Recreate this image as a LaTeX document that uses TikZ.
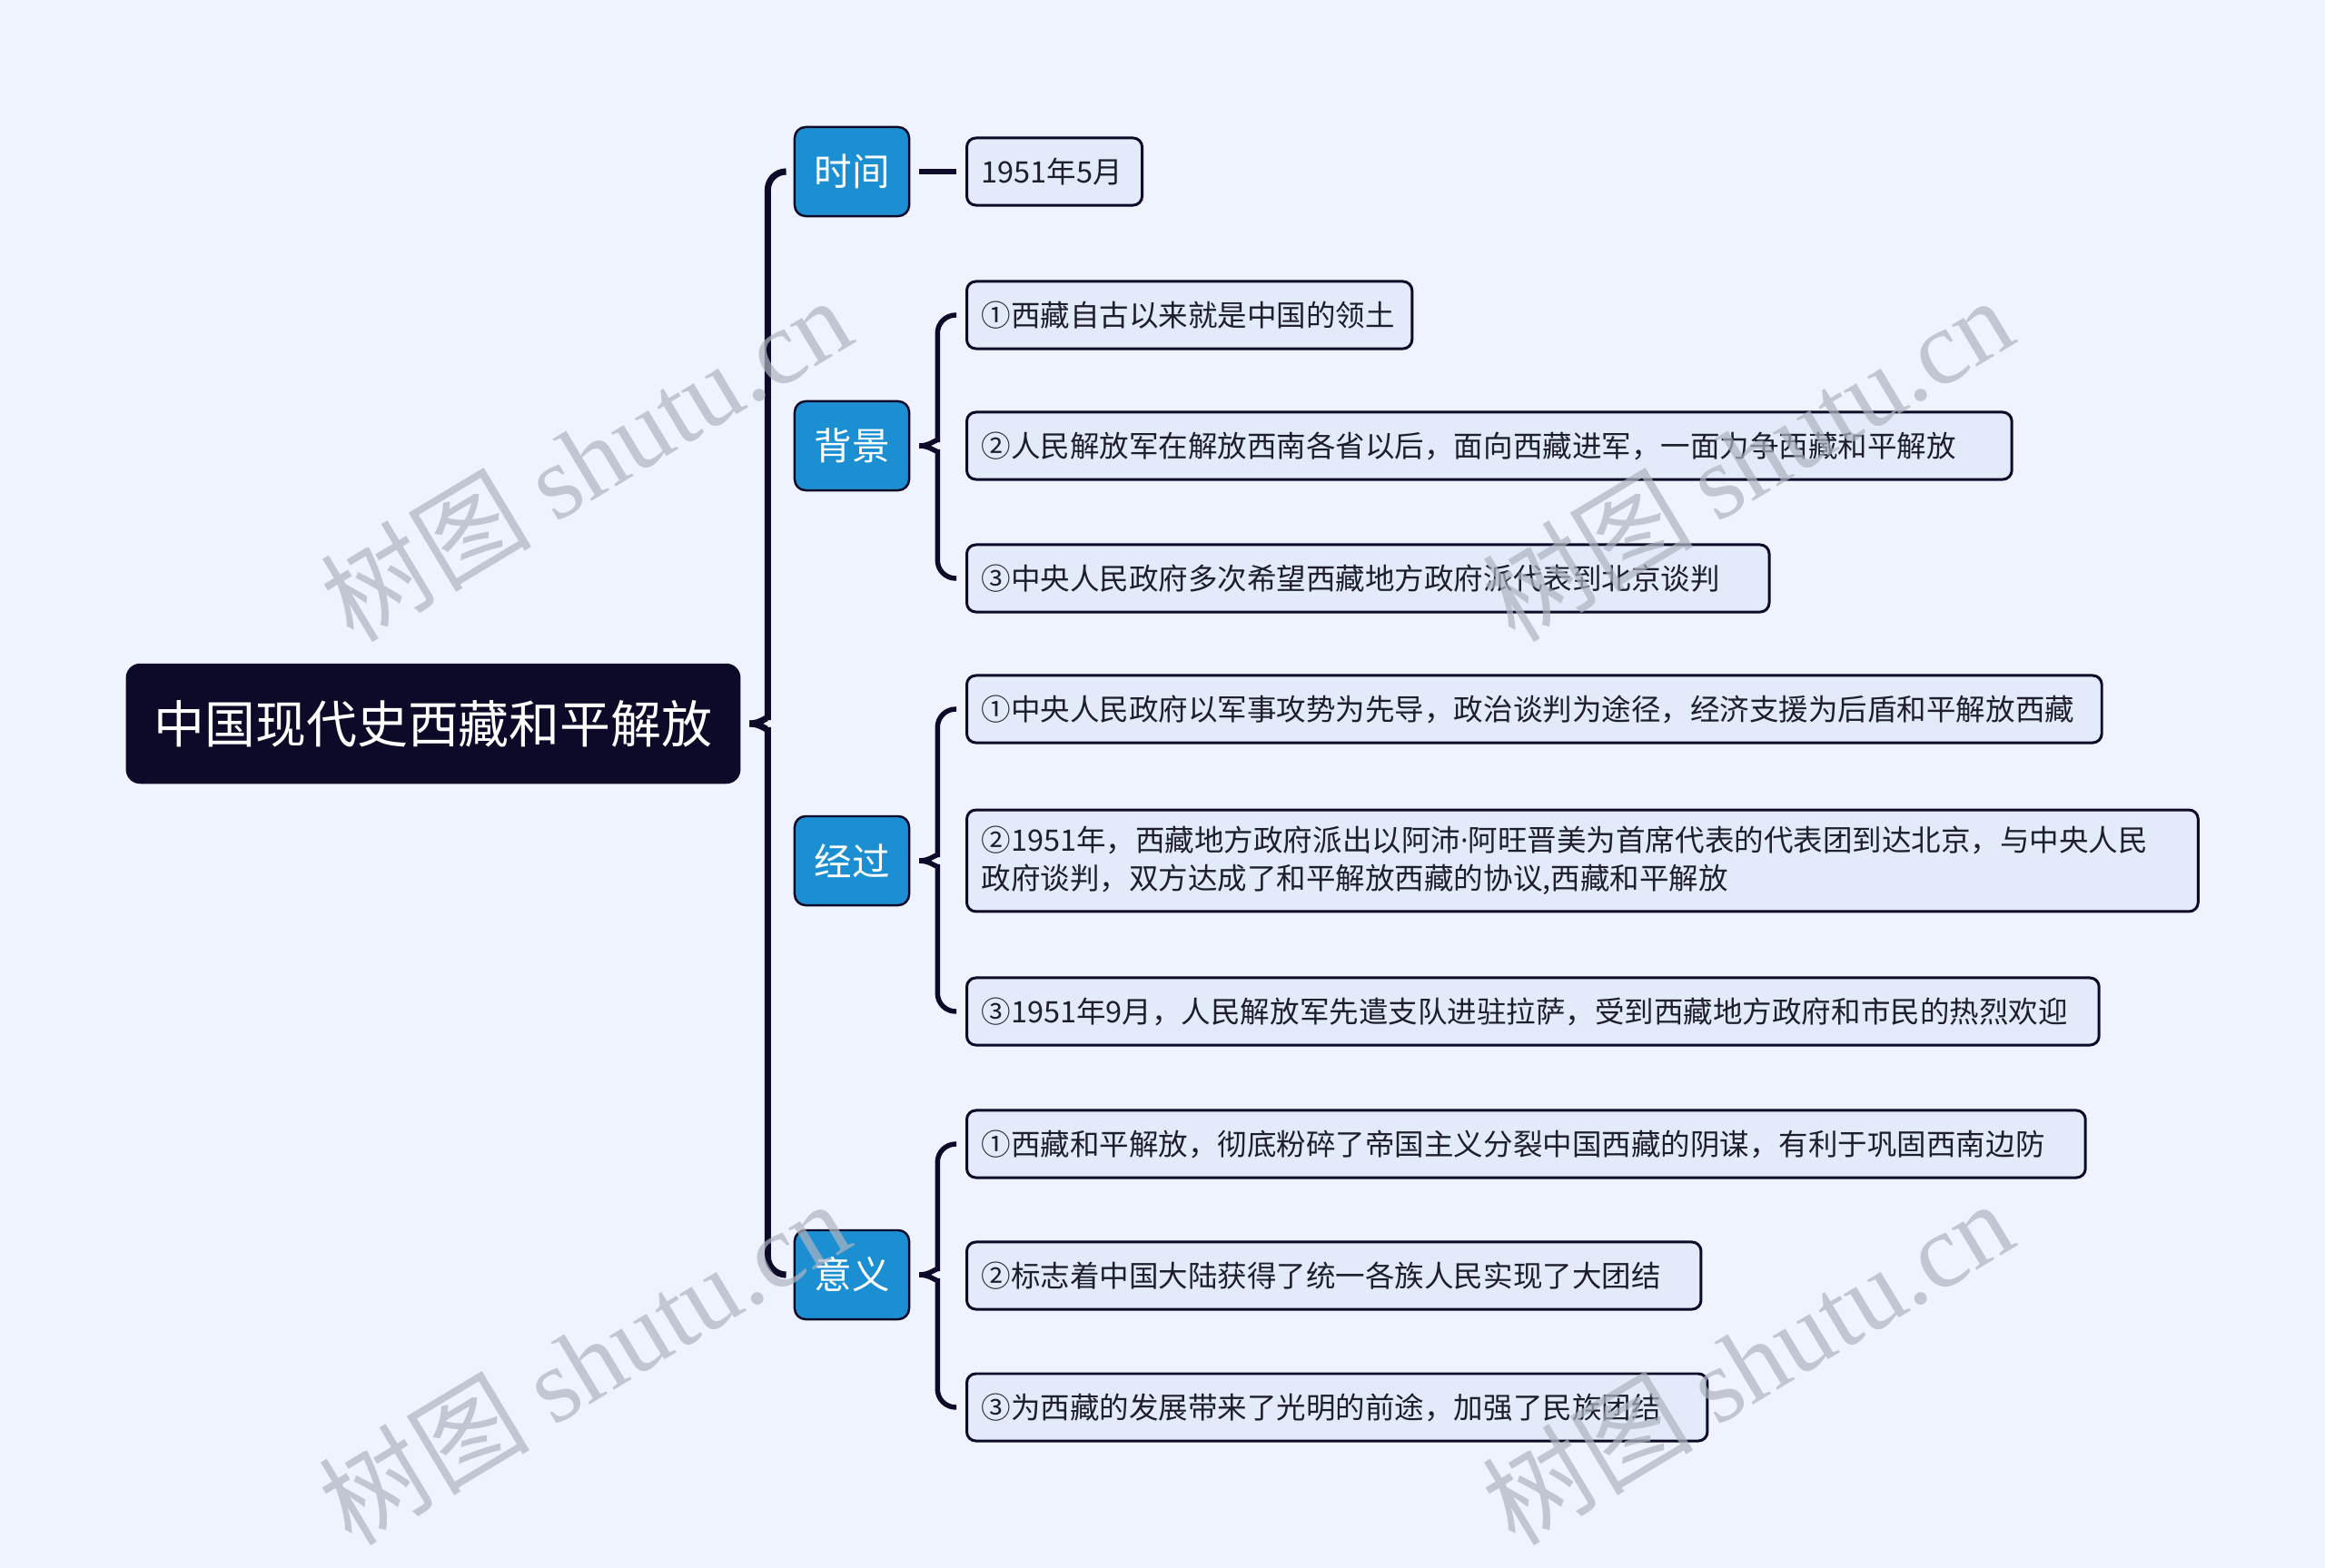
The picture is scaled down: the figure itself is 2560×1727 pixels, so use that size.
\documentclass[tikz,border=0pt]{standalone}
\usepackage{fontspec}
\setmainfont{Noto Sans CJK SC}
\newfontfamily\wmfont{Liberation Serif}
\newfontfamily\latinfont{Open Sans}
\usetikzlibrary{calc}
\definecolor{bgc}{HTML}{EEF3FD}
\definecolor{navy}{HTML}{0C0A28}
\definecolor{topicblue}{HTML}{1B8FD2}
\definecolor{leafc}{HTML}{E3EBFB}
\definecolor{leaftext}{HTML}{1E1E2C}
\definecolor{wmgray}{HTML}{AEB4C0}
\begin{document}
\begin{tikzpicture}[x=0.01cm,y=-0.01cm]
  \tikzstyle{root}=[rectangle,rounded corners=1.5mm,fill=navy,draw=navy,text=white,
    minimum width=6.75cm,minimum height=1.31cm,inner sep=0pt,font=\fontsize{15.9}{19}\selectfont]
  \tikzstyle{topic}=[rectangle,rounded corners=1.2mm,fill=topicblue,draw=navy,line width=0.7pt,text=white,
    minimum width=1.26cm,minimum height=0.98cm,inner sep=0pt,font=\fontsize{11.8}{14}\selectfont]
  \tikzstyle{leaf}=[rectangle,rounded corners=1mm,fill=leafc,draw=navy,line width=0.85pt,text=leaftext,
    anchor=west,align=left,minimum height=0.74cm,inner xsep=0.16cm,inner ysep=0.18cm,
    font=\fontsize{9.25}{11.95}\selectfont]
  \tikzstyle{trunk}=[draw=navy,line width=2pt,rounded corners=2mm]
  \tikzstyle{branch}=[draw=navy,line width=1.55pt,rounded corners=2mm]
  \tikzstyle{wm}=[text=wmgray,opacity=0.7,rotate=31,font=\fontsize{33}{33}\selectfont]

  \useasboundingbox (0,0) rectangle (2560,1727);
  \fill[bgc] (0,0) rectangle (2560,1727);

  \node[root] (root) at (477,797) {中国现代史西藏和平解放};

  \node[topic] (time) at (938,189) {时间};
  \node[topic] (back) at (938,491) {背景};
  \node[topic] (proc) at (938,948) {经过};
  \node[topic] (mean) at (938,1404) {意义};

  \node[leaf,text width=1.61cm] (t1) at (1063,189) {1951年5月};

  \node[leaf,text width=4.58cm] (b1) at (1063,347) {①西藏自古以来就是中国的领土};
  \node[leaf,text width=11.18cm] (b2) at (1063,491) {②人民解放军在解放西南各省以后，面向西藏进军，一面力争西藏和平解放};
  \node[leaf,text width=8.51cm] (b3) at (1063,637) {③中央人民政府多次希望西藏地方政府派代表到北京谈判};

  \node[leaf,text width=12.17cm] (p1) at (1063,781) {①中央人民政府以军事攻势为先导，政治谈判为途径，经济支援为后盾和平解放西藏};
  \node[leaf,text width=13.23cm] (p2) at (1063,948) {②1951年，西藏地方政府派出以阿沛{\latinfont ·}阿旺晋美为首席代表的代表团到达北京，与中央人民\\政府谈判，双方达成了和平解放西藏的协议,西藏和平解放};
  \node[leaf,text width=12.14cm] (p3) at (1063,1114) {③1951年9月，人民解放军先遣支队进驻拉萨，受到西藏地方政府和市民的热烈欢迎};

  \node[leaf,text width=11.99cm] (s1) at (1063,1260) {①西藏和平解放，彻底粉碎了帝国主义分裂中国西藏的阴谋，有利于巩固西南边防};
  \node[leaf,text width=7.76cm] (s2) at (1063,1405) {②标志着中国大陆获得了统一各族人民实现了大团结};
  \node[leaf,text width=7.83cm] (s3) at (1063,1550) {③为西藏的发展带来了光明的前途，加强了民族团结};

  \coordinate (rc) at ($(root.east)+(10,0)$);
  \draw[trunk] (rc) .. controls +(14,0) and +(0,14) .. ($(rc)+(20,-24)$) |- ($(time.west)+(-10,0)$);
  \draw[trunk] (rc) .. controls +(14,0) and +(0,-14) .. ($(rc)+(20,24)$) |- ($(mean.west)+(-10,0)$);

  \draw[branch] ($(time.east)+(10,0)$) -- ($(t1.west)+(-10,0)$);

  \coordinate (bc) at ($(back.east)+(10,0)$);
  \draw[branch] (bc) .. controls +(14,0) and +(0,14) .. ($(bc)+(20,-24)$) |- ($(b1.west)+(-10,0)$);
  \draw[branch] (bc) .. controls +(14,0) and +(0,-14) .. ($(bc)+(20,24)$) |- ($(b3.west)+(-10,0)$);

  \coordinate (pc) at ($(proc.east)+(10,0)$);
  \draw[branch] (pc) .. controls +(14,0) and +(0,14) .. ($(pc)+(20,-24)$) |- ($(p1.west)+(-10,0)$);
  \draw[branch] (pc) .. controls +(14,0) and +(0,-14) .. ($(pc)+(20,24)$) |- ($(p3.west)+(-10,0)$);

  \coordinate (sc) at ($(mean.east)+(10,0)$);
  \draw[branch] (sc) .. controls +(14,0) and +(0,14) .. ($(sc)+(20,-24)$) |- ($(s1.west)+(-10,0)$);
  \draw[branch] (sc) .. controls +(14,0) and +(0,-14) .. ($(sc)+(20,24)$) |- ($(s3.west)+(-10,0)$);

  \node[wm] (wm1) at (645,505) {树图 {\wmfont shutu.cn}};
  \node[wm] (wm2) at (1924,505) {树图 {\wmfont shutu.cn}};
  \node[wm] (wm3) at (643,1500) {树图 {\wmfont shutu.cn}};
  \node[wm] (wm4) at (1924,1500) {树图 {\wmfont shutu.cn}};
\end{tikzpicture}
\end{document}
